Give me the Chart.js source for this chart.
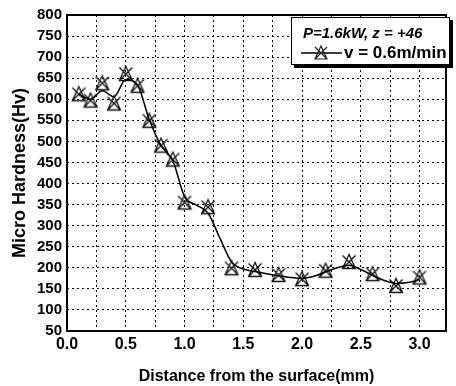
<!DOCTYPE html>
<html>
<head>
<meta charset="utf-8">
<script src="https://cdn.jsdelivr.net/npm/chart.js@4"></script>
<style>
  body { margin: 0; background: #fff; }
  #wrap { position: relative; width: 456px; height: 386px; }
  #legend {
    position: absolute; left: 291px; top: 17px; width: 157px; height: 46px;
    border: 1.5px solid #000; box-shadow: 3px 3px 0 #000; background: #fff;
    font-family: "Liberation Sans", Arial, sans-serif; font-weight: bold; color: #000;
  }
  #legend .l1 { position: absolute; left: 11px; top: 6px; font-size: 15px; font-style: italic; white-space: nowrap; }
  #legend .l2 { position: absolute; left: 9px; top: 25px; font-size: 17px; white-space: nowrap; display: flex; align-items: center; }
  #legend svg { margin-right: 2px; }
</style>
</head>
<body>
<div id="wrap">
  <canvas id="chart" width="456" height="386"></canvas>
  <div id="legend">
    <div class="l1">P=1.6kW, z = +46</div>
    <div class="l2">
      <svg width="41" height="18" viewBox="0 0 41 18">
        <line x1="0" y1="9" x2="41" y2="9" stroke="#000" stroke-width="1.5"/>
        <path d="M20 2 L14 15 L26 15 Z M14 3 L26 15 M26 3 L14 15" fill="none" stroke="#222" stroke-width="1.2"/>
      </svg>
      <span>v = 0.6m/min</span>
    </div>
  </div>
</div>
<script>
// measured points
const distances = [0.1, 0.2, 0.3, 0.4, 0.5, 0.6, 0.7, 0.8, 0.9, 1.0, 1.2, 1.4, 1.6, 1.8, 2.0, 2.2, 2.4, 2.6, 2.8, 3.0];
const hardness = [612, 597, 638, 590, 660, 632, 549, 490, 457, 355, 344, 199, 195, 183, 173, 193, 214, 185, 157, 177];

// smoothed curve as drawn in the figure
const curveX = [0.1, 0.2, 0.3, 0.4, 0.5, 0.6, 0.7, 0.8, 0.9, 1.0, 1.1, 1.2, 1.3, 1.4, 1.5, 1.6, 1.7, 1.8, 1.9, 2.0,
                2.1, 2.2, 2.3, 2.4, 2.5, 2.6, 2.7, 2.8, 2.9, 3.0];
const curveY = [612, 600, 620, 606, 647, 634, 552, 490, 455, 369, 349, 330, 271, 214, 197, 191, 186, 181, 177, 175,
                180, 190, 200, 206, 196, 182, 170, 163, 165, 172];

// grid positions on x, labelled every 0.5
const xGrid = [0, 0.25, 0.5, 0.75, 1.0, 1.25, 1.5, 1.75, 2.0, 2.25, 2.5, 2.75, 3.0];
const xLabels = ['0.0', '0.5', '1.0', '1.5', '2.0', '2.5', '3.0'];

// marker: triangle with a cross through it
const marker = document.createElement('canvas');
marker.width = 18; marker.height = 18;
(function () {
  const c = marker.getContext('2d');
  c.strokeStyle = '#111';
  c.lineWidth = 1.3;
  c.beginPath();
  c.moveTo(9, 1.5); c.lineTo(2.5, 15.5); c.lineTo(15.5, 15.5); c.closePath();
  c.moveTo(2.5, 2.5); c.lineTo(15.5, 15.5);
  c.moveTo(15.5, 2.5); c.lineTo(2.5, 15.5);
  c.stroke();
})();

const frame = {
  id: 'frame',
  afterDraw(chart) {
    const { ctx, chartArea: a } = chart;
    ctx.save();
    ctx.strokeStyle = '#000';
    ctx.lineWidth = 2;
    ctx.strokeRect(a.left, a.top, a.right - a.left, a.bottom - a.top);
    ctx.restore();
  }
};

const font = { family: '"Liberation Sans", Arial, sans-serif', weight: 'bold', size: 16 };

new Chart(document.getElementById('chart'), {
  type: 'scatter',
  data: {
    datasets: [
      {
        data: curveX.map((x, i) => ({ x: x, y: curveY[i] })),
        showLine: true,
        borderColor: '#000',
        borderWidth: 1.5,
        pointRadius: 0,
        tension: 0.4,
        cubicInterpolationMode: 'monotone'
      },
      {
        data: distances.map((x, i) => ({ x: x, y: hardness[i] })),
        showLine: false,
        pointStyle: marker,
        pointRadius: 9
      }
    ]
  },
  options: {
    responsive: false,
    animation: false,
    layout: { padding: { top: 15, right: 2, left: 0, bottom: 0 } },
    plugins: { legend: { display: false }, tooltip: { enabled: false } },
    scales: {
      x: {
        min: 0,
        max: 3.225,
        afterFit(s) { s.height = 55; },
        afterBuildTicks(s) { s.ticks = xGrid.map(v => ({ value: v })); },
        ticks: {
          padding: 4,
          color: '#000',
          font: font,
          maxRotation: 0,
          autoSkip: false,
          callback(v) {
            const t = v.toFixed(1);
            return xLabels.includes(t) && Math.abs(v * 2 - Math.round(v * 2)) < 1e-6 ? t : '';
          }
        },
        grid: { color: '#000', lineWidth: 1, drawTicks: false },
        border: { display: false, dash: [2, 3] },
        title: { display: true, text: 'Distance from the surface(mm)', color: '#000', font: font, padding: { top: 2, bottom: 0 } }
      },
      y: {
        min: 50,
        max: 800,
        afterFit(s) { s.width = 67; },
        ticks: { stepSize: 50, padding: 5, color: '#000', font: { ...font, size: 15 }, autoSkip: false },
        grid: { color: '#000', lineWidth: 1, drawTicks: false },
        border: { display: false, dash: [2, 3] },
        title: { display: true, text: 'Micro Hardness(Hv)', color: '#000', font: { ...font, size: 18 }, padding: { top: 9, bottom: 0 } }
      }
    }
  },
  plugins: [frame]
});
</script>
</body>
</html>
